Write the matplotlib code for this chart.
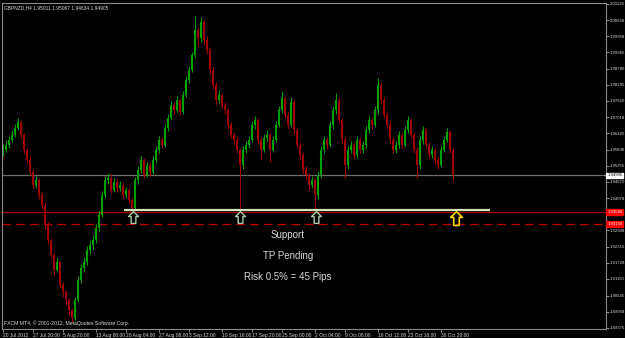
#!/usr/bin/env python3

import matplotlib
matplotlib.use("Agg")
import matplotlib.pyplot as plt
import matplotlib.transforms as mtransforms
from matplotlib.path import Path
import numpy as np

plt.rcParams["font.family"] = ["Liberation Sans", "DejaVu Sans"]

symbol = "GBPNZD,H4"
ohlc_text = ["1.95011", "1.95067", "1.94634", "1.94905"]
copyright_text = "FXCM MT4, \u00a9 2001-2012, MetaQuotes Software Corp."

# candles (open of each bar = close of the previous one)
first_open = 1.9570
closes = [
    1.9583, 1.9601, 1.9619, 1.9637, 1.9662, 1.9684, 1.9637, 1.9583, 1.9546, 1.9503,
    1.9455, 1.9474, 1.9419, 1.9383, 1.9310, 1.9256, 1.9201, 1.9147, 1.9176, 1.9092,
    1.9067, 1.9038, 1.9002, 1.8973, 1.9038, 1.9111, 1.9154, 1.9176, 1.9220, 1.9238,
    1.9256, 1.9299, 1.9347, 1.9419, 1.9474, 1.9481, 1.9437, 1.9466, 1.9445, 1.9455,
    1.9419, 1.9437, 1.9401, 1.9372, 1.9474, 1.9510, 1.9546, 1.9492, 1.9528, 1.9503,
    1.9546, 1.9583, 1.9619, 1.9601, 1.9662, 1.9699, 1.9746, 1.9728, 1.9764, 1.9720,
    1.9782, 1.9837, 1.9873, 1.9927, 2.0018, 1.9989, 2.0047, 1.9982, 1.9945, 1.9873,
    1.9818, 1.9764, 1.9782, 1.9746, 1.9728, 1.9673, 1.9637, 1.9619, 1.9583, 1.9528,
    1.9583, 1.9601, 1.9619, 1.9673, 1.9691, 1.9619, 1.9583, 1.9626, 1.9637, 1.9583,
    1.9619, 1.9673, 1.9728, 1.9771, 1.9710, 1.9673, 1.9757, 1.9655, 1.9601, 1.9564,
    1.9510, 1.9492, 1.9455, 1.9474, 1.9419, 1.9492, 1.9583, 1.9619, 1.9601, 1.9673,
    1.9728, 1.9764, 1.9691, 1.9619, 1.9528, 1.9583, 1.9601, 1.9564, 1.9619, 1.9583,
    1.9601, 1.9655, 1.9691, 1.9673, 1.9728, 1.9818, 1.9764, 1.9710, 1.9673, 1.9619,
    1.9583, 1.9601, 1.9637, 1.9601, 1.9655, 1.9691, 1.9637, 1.9583, 1.9528, 1.9619,
    1.9655, 1.9601, 1.9564, 1.9583, 1.9546, 1.9528, 1.9583, 1.9619, 1.9648, 1.9583,
    1.9491,
]
highs = [
    1.9605, 1.9620, 1.9632, 1.9655, 1.9678, 1.9700, 1.9690, 1.9645, 1.9595, 1.9560,
    1.9515, 1.9490, 1.9480, 1.9430, 1.9395, 1.9320, 1.9265, 1.9210, 1.9195, 1.9180,
    1.9105, 1.9075, 1.9045, 1.9010, 1.9050, 1.9125, 1.9170, 1.9195, 1.9235, 1.9255,
    1.9275, 1.9315, 1.9360, 1.9435, 1.9490, 1.9500, 1.9495, 1.9480, 1.9478, 1.9470,
    1.9462, 1.9450, 1.9445, 1.9410, 1.9485, 1.9525, 1.9560, 1.9552, 1.9540, 1.9535,
    1.9560, 1.9598, 1.9632, 1.9630, 1.9678, 1.9712, 1.9760, 1.9755, 1.9778, 1.9770,
    1.9795, 1.9850, 1.9888, 1.9940, 2.0070, 2.0030, 2.0066, 2.0055, 1.9995, 1.9955,
    1.9885, 1.9830, 1.9800, 1.9790, 1.9755, 1.9735, 1.9685, 1.9648, 1.9630, 1.9590,
    1.9598, 1.9615, 1.9632, 1.9688, 1.9705, 1.9698, 1.9628, 1.9640, 1.9655, 1.9645,
    1.9632, 1.9688, 1.9742, 1.9795, 1.9780, 1.9720, 1.9775, 1.9765, 1.9665, 1.9612,
    1.9575, 1.9525, 1.9500, 1.9490, 1.9480, 1.9505, 1.9598, 1.9632, 1.9630, 1.9688,
    1.9742, 1.9790, 1.9775, 1.9700, 1.9630, 1.9598, 1.9615, 1.9612, 1.9632, 1.9628,
    1.9615, 1.9668, 1.9705, 1.9700, 1.9742, 1.9844, 1.9830, 1.9775, 1.9720, 1.9685,
    1.9630, 1.9615, 1.9650, 1.9645, 1.9668, 1.9705, 1.9698, 1.9648, 1.9595, 1.9632,
    1.9668, 1.9662, 1.9612, 1.9598, 1.9592, 1.9560, 1.9598, 1.9632, 1.9662, 1.9655,
    1.9590,
]
lows = [
    1.9560, 1.9575, 1.9590, 1.9610, 1.9630, 1.9655, 1.9625, 1.9570, 1.9530, 1.9490,
    1.9440, 1.9445, 1.9405, 1.9370, 1.9295, 1.9240, 1.9190, 1.9130, 1.9140, 1.9080,
    1.9050, 1.9020, 1.8985, 1.8958, 1.8965, 1.9030, 1.9100, 1.9140, 1.9165, 1.9205,
    1.9220, 1.9245, 1.9290, 1.9340, 1.9410, 1.9460, 1.9425, 1.9430, 1.9430, 1.9435,
    1.9405, 1.9410, 1.9390, 1.9358, 1.9365, 1.9460, 1.9500, 1.9480, 1.9485, 1.9490,
    1.9495, 1.9535, 1.9570, 1.9590, 1.9595, 1.9650, 1.9690, 1.9715, 1.9720, 1.9710,
    1.9715, 1.9775, 1.9825, 1.9865, 1.9915, 1.9960, 1.9975, 1.9965, 1.9930, 1.9860,
    1.9805, 1.9750, 1.9752, 1.9735, 1.9715, 1.9660, 1.9625, 1.9605, 1.9570, 1.9372,
    1.9515, 1.9570, 1.9590, 1.9610, 1.9660, 1.9605, 1.9545, 1.9575, 1.9612, 1.9540,
    1.9575, 1.9610, 1.9665, 1.9718, 1.9698, 1.9660, 1.9665, 1.9642, 1.9590, 1.9550,
    1.9495, 1.9478, 1.9440, 1.9445, 1.9365, 1.9405, 1.9480, 1.9570, 1.9585, 1.9595,
    1.9660, 1.9715, 1.9680, 1.9605, 1.9481, 1.9515, 1.9570, 1.9550, 1.9555, 1.9570,
    1.9572, 1.9590, 1.9645, 1.9660, 1.9665, 1.9715, 1.9750, 1.9698, 1.9660, 1.9605,
    1.9570, 1.9570, 1.9590, 1.9588, 1.9592, 1.9645, 1.9625, 1.9570, 1.9481, 1.9515,
    1.9605, 1.9590, 1.9550, 1.9552, 1.9532, 1.9515, 1.9520, 1.9575, 1.9610, 1.9570,
    1.9475,
]

price_ticks = [
    2.01126, 2.00538, 1.99958, 1.99365, 1.98780, 1.98195, 1.97610, 1.97018,
    1.96425, 1.95840, 1.95255, 1.94670, 1.94078, 1.93488, 1.92908, 1.92315,
    1.91728, 1.91150, 1.90545, 1.89958, 1.89375,
]
date_labels = [
    "20 Jul 2012", "27 Jul 20:00", "5 Aug 20:00", "13 Aug 00:00", "20 Aug 04:00",
    "27 Aug 08:00", "3 Sep 12:00", "10 Sep 16:00", "17 Sep 20:00", "25 Sep 00:00",
    "2 Oct 04:00", "9 Oct 08:00", "16 Oct 12:00", "23 Oct 16:00", "30 Oct 20:00",
]
date_bars = [0, 10, 20, 31, 41, 52, 62, 73, 83, 93, 104, 114, 125, 135, 146]

bid = 1.94905
stop_line = 1.93580
stop_dash = 1.93150
support_level = 1.9364
support_from, support_to = 40.3, 162.3
touch_bars = [43.3, 79.0, 104.3]
touch_price = 1.9341
entry_bar = 151.0
entry_price = 1.9336
notes = ["Support", "TP Pending", "Risk 0.5% = 45 Pips"]
note_prices = [1.9274, 1.9198, 1.9121]
note_bar = 95

up_col = "#00a000"
dn_col = "#a00000"
fg = "#d8d8d8"
frame = "#8a8a8a"
small = 3.5
scale_fs = 3.1

fig = plt.figure(figsize=(6.25, 3.38), dpi=100, facecolor="black")
ax = fig.add_axes([2 / 625, 9 / 338, 604 / 625, 326 / 338], facecolor="black")

x = np.arange(len(closes))
c = np.array(closes)
o = np.array([first_open] + closes[:-1])
cols = np.where(c >= o, up_col, dn_col)
ax.vlines(x, lows, highs, colors=cols, lw=0.75, zorder=2)
ax.vlines(x, o, c, colors=cols, lw=1.5, zorder=2)

# horizontal objects
ax.axhline(bid, color="#6e6e6e", lw=0.9, zorder=1)
ax.axhline(stop_line, color="#a00000", lw=0.9, zorder=1)
ax.axhline(stop_dash, color="#c00000", lw=0.9, ls=(0, (7, 4)), zorder=1)
ax.hlines(support_level, support_from, support_to, color="#d4e2b8", lw=1.6, zorder=3)

# arrows
arrow = Path([(0, 0.5), (0.42, 0.08), (0.2, 0.08), (0.2, -0.5), (-0.2, -0.5),
              (-0.2, 0.08), (-0.42, 0.08), (0, 0.5)], closed=True)
ax.plot(touch_bars, [touch_price] * len(touch_bars), ls="none", marker=arrow,
        ms=8.5, mfc="none", mec="#a8c8a8", mew=1.0, zorder=4)
ax.plot([entry_bar], [entry_price], ls="none", marker=arrow,
        ms=10, mfc="none", mec="#ffd800", mew=1.2, zorder=4)

for txt, p in zip(notes, note_prices):
    ax.text(note_bar, p, txt, color=fg, fontsize=7, ha="center", va="center")

ax.set_xlim(-0.333, 201)
ax.set_ylim(1.8933, 2.0116)

for s in ax.spines.values():
    s.set_color(frame)
    s.set_linewidth(0.8)

ax.yaxis.tick_right()
ax.set_yticks(price_ticks)
ax.set_yticklabels([f"{v:.5f}" for v in price_ticks])
ax.tick_params(axis="y", direction="out", length=2.0, width=0.7, color=frame,
               labelcolor=fg, labelsize=scale_fs, pad=0.6)
ax.set_xticks(date_bars)
ax.set_xticklabels(date_labels, ha="left")
ax.tick_params(axis="x", direction="out", length=2.0, width=0.7, color=frame,
               labelcolor=fg, labelsize=small, pad=0.8)

# price labels on the scale
tr = mtransforms.blended_transform_factory(ax.transAxes, ax.transData)
ax.text(1.002, bid, f"{bid:.5f}", transform=tr, fontsize=scale_fs, color="black",
        va="center", ha="left", zorder=6, clip_on=False,
        bbox=dict(boxstyle="square,pad=0.2", fc="white", ec="white"))
for p in [stop_line, stop_dash]:
    ax.text(1.002, p, f"{p:.5f}", transform=tr, fontsize=scale_fs, color="white",
            va="center", ha="left", zorder=6, clip_on=False,
            bbox=dict(boxstyle="square,pad=0.2", fc="#ff0000", ec="#ff0000"))

ax.text(0.004, 0.993, symbol + " " + " ".join(ohlc_text), transform=ax.transAxes,
        color=fg, fontsize=small, va="top", ha="left")
ax.text(0.003, 0.008, copyright_text, transform=ax.transAxes,
        color=fg, fontsize=small + 0.2, va="bottom", ha="left")

plt.savefig("out.png", dpi=100, facecolor="black")
